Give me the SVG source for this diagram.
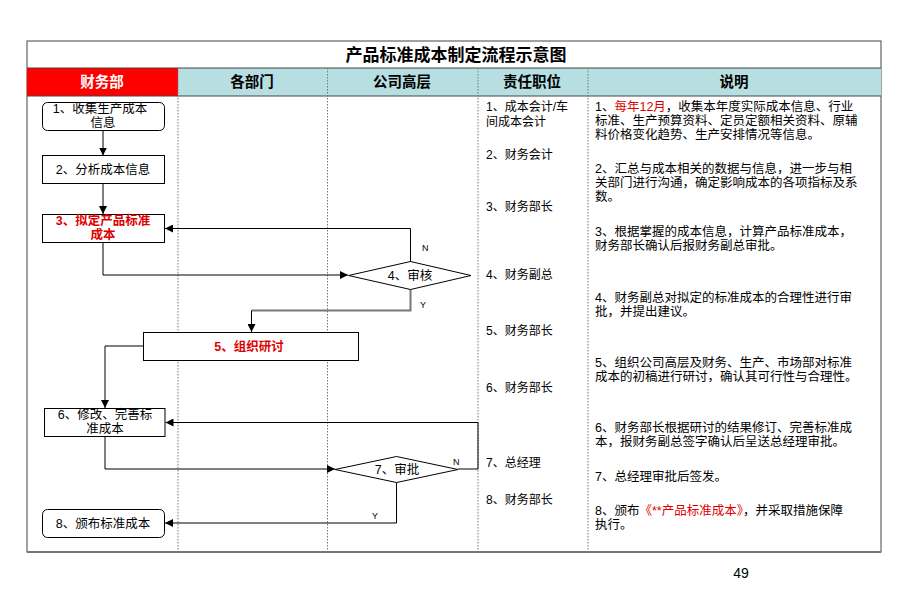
<svg xmlns="http://www.w3.org/2000/svg" width="920" height="613" viewBox="0 0 920 613">
<defs>
<style>
text{font-family:"Liberation Sans","Noto Sans CJK SC",sans-serif;font-size:12px;fill:#000}
.hd{font-size:14.5px;font-weight:bold;text-anchor:middle}
.ttl{font-size:17px;font-weight:bold;text-anchor:middle}
.nt{font-size:12.5px}
.bx{font-size:12.5px;text-anchor:middle}
.red{fill:#e00000}
.rb{fill:#e00000;font-weight:bold}
.box{fill:#fff;stroke:#000;stroke-width:1}
.sep{stroke:#777;stroke-width:1;stroke-dasharray:1.5,1.5;fill:none}
.ln{fill:none;stroke:#000;stroke-width:1}
.yn{font-size:9px}
</style>
<marker id="ah" viewBox="0 0 8 8" refX="8" refY="4" markerWidth="8" markerHeight="8" orient="auto" markerUnits="userSpaceOnUse">
<path d="M0,0 L8,4 L0,8 z" fill="#000"/>
</marker>
</defs>
<rect width="920" height="613" fill="#fff"/>
<g id="table">
<rect x="27" y="41" width="854" height="511" fill="#fff" stroke="#444" stroke-width="1"/>
<rect x="27" y="68" width="151" height="28" fill="#ff0000"/>
<rect x="178" y="68" width="703" height="28" fill="#b7dee1"/>
<line x1="27" y1="68" x2="881" y2="68" stroke="#444"/>
<line x1="27" y1="96" x2="881" y2="96" stroke="#444"/>
<line class="sep" x1="178" y1="68" x2="178" y2="552"/>
<line class="sep" x1="327.5" y1="68" x2="327.5" y2="552"/>
<line class="sep" x1="478" y1="68" x2="478" y2="552"/>
<line class="sep" x1="588" y1="68" x2="588" y2="552"/>
<line x1="27" y1="552" x2="881" y2="552" stroke="#777" stroke-width="2"/>
<text class="ttl" x="456" y="61">产品标准成本制定流程示意图</text>
<text class="hd" x="102" y="87" style="fill:#fff">财务部</text>
<text class="hd" x="252" y="87">各部门</text>
<text class="hd" x="402" y="87">公司高层</text>
<text class="hd" x="532" y="87">责任职位</text>
<text class="hd" x="734" y="87">说明</text>
</g>
<g id="roles">
<text x="486" y="111">1、成本会计/车</text>
<text x="486" y="126">间成本会计</text>
<text x="486" y="159">2、财务会计</text>
<text x="486" y="211">3、财务部长</text>
<text x="486" y="279">4、财务副总</text>
<text x="486" y="335">5、财务部长</text>
<text x="486" y="392">6、财务部长</text>
<text x="486" y="467">7、总经理</text>
<text x="486" y="504">8、财务部长</text>
</g>
<g id="notes" class="nt">
<text class="nt" x="595" y="111">1、<tspan class="red">每年12月</tspan>，收集本年度实际成本信息、行业</text>
<text class="nt" x="595" y="125">标准、生产预算资料、定员定额相关资料、原辅</text>
<text class="nt" x="595" y="139">料价格变化趋势、生产安排情况等信息。</text>
<text class="nt" x="595" y="173">2、汇总与成本相关的数据与信息，进一步与相</text>
<text class="nt" x="595" y="187">关部门进行沟通，确定影响成本的各项指标及系</text>
<text class="nt" x="595" y="201">数。</text>
<text class="nt" x="595" y="236">3、根据掌握的成本信息，计算产品标准成本，</text>
<text class="nt" x="595" y="250">财务部长确认后报财务副总审批。</text>
<text class="nt" x="595" y="302">4、财务副总对拟定的标准成本的合理性进行审</text>
<text class="nt" x="595" y="316">批，并提出建议。</text>
<text class="nt" x="595" y="367">5、组织公司高层及财务、生产、市场部对标准</text>
<text class="nt" x="595" y="381">成本的初稿进行研讨，确认其可行性与合理性。</text>
<text class="nt" x="595" y="432">6、财务部长根据研讨的结果修订、完善标准成</text>
<text class="nt" x="595" y="446">本，报财务副总签字确认后呈送总经理审批。</text>
<text class="nt" x="595" y="481">7、总经理审批后签发。</text>
<text class="nt" x="595" y="515">8、颁布<tspan class="red">《**产品标准成本》</tspan>，并采取措施保障</text>
<text class="nt" x="595" y="529">执行。</text>
</g>
<g id="connectors">
<line class="ln" x1="103" y1="131" x2="103" y2="155.5" marker-end="url(#ah)"/>
<line class="ln" x1="103" y1="183.5" x2="103" y2="214" marker-end="url(#ah)"/>
<polyline class="ln" points="103,242.5 103,275 348,275" marker-end="url(#ah)"/>
<polyline class="ln" points="410.5,262 410.5,228.5 165,228.5" marker-end="url(#ah)"/>
<polyline points="410.5,289 410.5,310.5 251.5,310.5" fill="none" stroke="#777" stroke-width="2"/>
<line class="ln" x1="251.5" y1="310.5" x2="251.5" y2="332" marker-end="url(#ah)"/>
<polyline class="ln" points="143,346 105,346 105,408" marker-end="url(#ah)"/>
<polyline class="ln" points="105,436 105,469 335,469" marker-end="url(#ah)"/>
<polyline class="ln" points="458,469 478,469 478,422.5 165.5,422.5" marker-end="url(#ah)"/>
<polyline class="ln" points="396.5,482.5 396.5,523 165,523" marker-end="url(#ah)"/>
<text class="yn" x="422" y="251">N</text>
<text class="yn" x="420" y="308">Y</text>
<text class="yn" x="453" y="465">N</text>
<text class="yn" x="372" y="519">Y</text>
</g>
<g id="n1"><rect class="box" x="42.5" y="102.5" width="122" height="28" rx="5"/><text class="bx" x="100" y="113">1、收集生产成本</text><text class="bx" x="103" y="127">信息</text></g>
<g id="n2"><rect class="box" x="42.5" y="155.5" width="122" height="28"/><text class="bx" x="103" y="174">2、分析成本信息</text></g>
<g id="n3"><rect class="box" x="42.5" y="214.5" width="122" height="28"/><text class="bx rb" x="103" y="225">3、拟定产品标准</text><text class="bx rb" x="103" y="239">成本</text></g>
<g id="n4"><polygon class="box" points="348.5,275.5 410.5,261.5 471,275.5 410.5,289.5"/><text class="bx" x="410" y="280">4、审核</text></g>
<g id="n5"><rect class="box" x="143.5" y="332.5" width="215" height="28"/><text class="bx rb" x="249" y="351">5、组织研讨</text></g>
<g id="n6"><rect class="box" x="44.5" y="408.5" width="120.5" height="28"/><text class="bx" x="105" y="419">6、修改、完善标</text><text class="bx" x="105" y="433">准成本</text></g>
<g id="n7"><polygon class="box" points="335,469.5 396.5,456.5 458,469.5 396.5,482.5"/><text class="bx" x="397" y="474">7、审批</text></g>
<g id="n8"><rect class="box" x="42.5" y="509.5" width="122" height="28" rx="5"/><text class="bx" x="103" y="528">8、颁布标准成本</text></g>
<text x="741" y="578" style="font-size:14px" text-anchor="middle">49</text>
</svg>
